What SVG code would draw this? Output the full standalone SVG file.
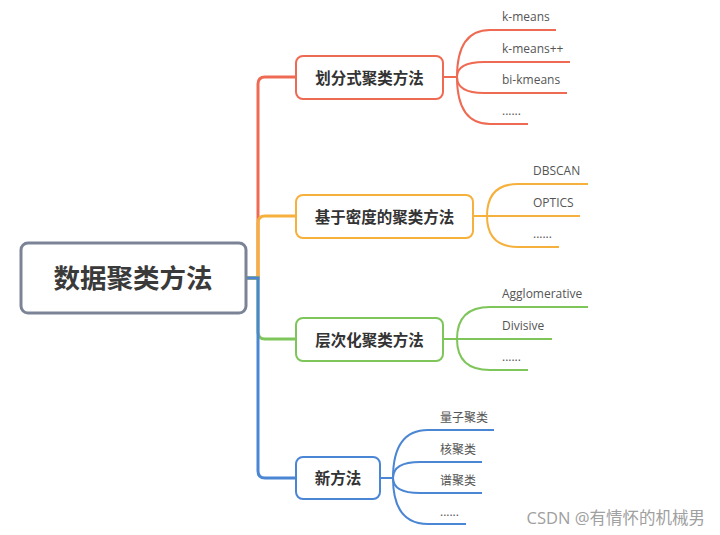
<svg xmlns="http://www.w3.org/2000/svg" width="720" height="535" viewBox="0 0 720 535">
<style>
.box{fill:#fff;stroke-width:2}
.main{stroke-width:3;fill:none;stroke-linecap:round}
.sub{stroke-width:2;fill:none}
.t{font-family:"Open Sans","Noto Sans CJK SC",sans-serif;font-weight:700;fill:#333;text-anchor:middle;dominant-baseline:central}
.c{font-family:"Open Sans","Noto Sans CJK SC",sans-serif;font-size:12px;fill:#555}
.red{stroke:#ef6a52}.org{stroke:#f6b03c}.grn{stroke:#7ec55a}.blu{stroke:#4b86d4}
</style>
<rect width="720" height="535" fill="#fff"/>
<g id="connectors">
<path class="main red" d="M246,278 H258 V84 Q258,77 265,77 H296"/>
<path class="main org" d="M246,278 H258 V223 Q258,216 265,216 H296"/>
<path class="main grn" d="M246,278 H258 V332 Q258,339 265,339 H296"/>
<path class="main blu" d="M246,278 H258 V471 Q258,478 265,478 H296"/>
<g class="sub red">
<path d="M443,77 H457"/>
<path d="M457,77 Q457,30 490,30 H556"/>
<path d="M457,77 Q457,62 484,62 H570"/>
<path d="M457,77 Q457,93 484,93 H567"/>
<path d="M457,77 Q457,124 490,124 H528"/>
</g>
<g class="sub org">
<path d="M473,216 H580"/>
<path d="M487,216 Q487,184 518,184 H588"/>
<path d="M487,216 Q487,247 518,247 H559"/>
</g>
<g class="sub grn">
<path d="M443,339 H552"/>
<path d="M457,339 Q457,307 490,307 H588"/>
<path d="M457,339 Q457,370 490,370 H528"/>
</g>
<g class="sub blu">
<path d="M380,478 H393"/>
<path d="M393,478 Q393,430 428,430 H494"/>
<path d="M393,478 Q393,462 420,462 H482"/>
<path d="M393,478 Q393,493 420,493 H482"/>
<path d="M393,478 Q393,524 428,524 H466"/>
</g>
</g>
<g id="root">
<rect x="21" y="243" width="225" height="70" rx="7" fill="#fff" stroke="#7b8496" stroke-width="3"/>
<text class="t" x="133" y="278" style="font-size:26.5px;fill:#3a3a3a">数据聚类方法</text>
</g>
<g id="n1">
<rect class="box red" x="296" y="56" width="147" height="43" rx="7"/>
<text class="t" x="369.5" y="77.5" style="font-size:15.5px">划分式聚类方法</text>
<text class="c" x="502" y="21">k-means</text>
<text class="c" x="502" y="53">k-means++</text>
<text class="c" x="502" y="84">bi-kmeans</text>
<text class="c" x="502" y="115">......</text>
</g>
<g id="n2">
<rect class="box org" x="296" y="195" width="177" height="43" rx="7"/>
<text class="t" x="384.5" y="216.5" style="font-size:15.5px">基于密度的聚类方法</text>
<text class="c" x="533" y="175">DBSCAN</text>
<text class="c" x="533" y="207">OPTICS</text>
<text class="c" x="533" y="238">......</text>
</g>
<g id="n3">
<rect class="box grn" x="296" y="318" width="147" height="43" rx="7"/>
<text class="t" x="369.5" y="339.5" style="font-size:15.5px">层次化聚类方法</text>
<text class="c" x="502" y="298">Agglomerative</text>
<text class="c" x="502" y="330">Divisive</text>
<text class="c" x="502" y="361">......</text>
</g>
<g id="n4">
<rect class="box blu" x="296" y="457" width="84" height="42" rx="7"/>
<text class="t" x="338" y="478" style="font-size:15.5px">新方法</text>
<text class="c" x="440" y="422">量子聚类</text>
<text class="c" x="440" y="454">核聚类</text>
<text class="c" x="440" y="485">谱聚类</text>
<text class="c" x="440" y="516">......</text>
</g>
<text x="705" y="524" text-anchor="end" style="font-family:'Open Sans','Noto Sans CJK SC',sans-serif;font-size:16.5px;fill:#a0a0a0">CSDN @有情怀的机械男</text>
</svg>
